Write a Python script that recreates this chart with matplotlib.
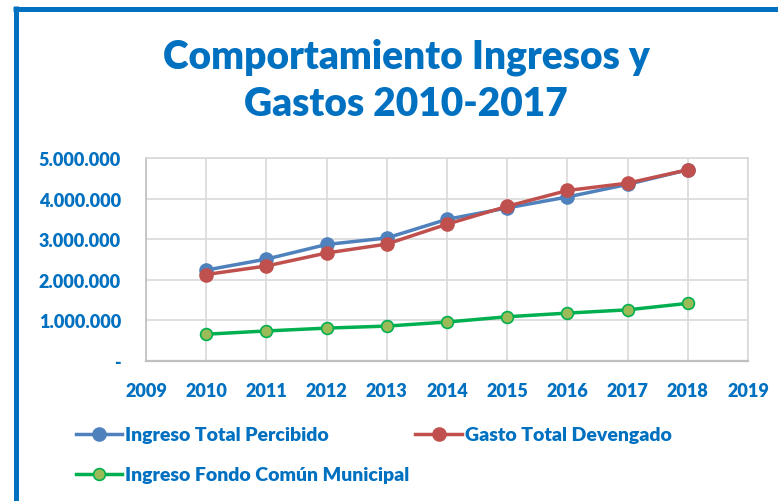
import matplotlib
matplotlib.use("Agg")
import matplotlib.pyplot as plt
from matplotlib.lines import Line2D
from matplotlib.ticker import FixedLocator, FuncFormatter

years = [2010, 2011, 2012, 2013, 2014, 2015, 2016, 2017, 2018]
ingreso_total = [2240000, 2510000, 2870000, 3030000, 3490000, 3770000, 4040000, 4350000, 4710000]
gasto_total = [2130000, 2340000, 2660000, 2880000, 3370000, 3810000, 4200000, 4380000, 4710000]
ingreso_fcm = [660000, 740000, 810000, 860000, 960000, 1090000, 1180000, 1260000, 1420000]
series_labels = ["Ingreso Total Percibido", "Gasto Total Devengado", "Ingreso Fondo Común Municipal"]
title_text = "Comportamiento Ingresos y\nGastos 2010-2017"
x_ticks = list(range(2009, 2020))
y_ticks = [0, 1000000, 2000000, 3000000, 4000000, 5000000]

BLUE_TXT = "#0070C0"
FONT = ["Lato", "DejaVu Sans"]
plt.rcParams["font.family"] = FONT

W, H = 778, 502
fig = plt.figure(figsize=(W / 100, H / 100), dpi=100)
fig.patch.set_facecolor("white")

# outer frame (left and top visible)
fig.add_artist(Line2D([15.5 / W, 15.5 / W], [0, 1 - 7 / H], transform=fig.transFigure,
                      color=BLUE_TXT, lw=3.6, solid_capstyle="butt"))
fig.add_artist(Line2D([13 / W, 1], [1 - 9.5 / H, 1 - 9.5 / H], transform=fig.transFigure,
                      color=BLUE_TXT, lw=3.6, solid_capstyle="butt"))

ax = fig.add_axes([146 / W, 1 - 362 / H, (748 - 146) / W, (362 - 159) / H])

ax.plot(years, ingreso_total, color="#4F81BD", lw=2.5, marker="o", ms=9.5,
        markerfacecolor="#4F81BD", markeredgecolor="#4F81BD", label=series_labels[0], zorder=3)
ax.plot(years, gasto_total, color="#C0504D", lw=2.5, marker="o", ms=9.5,
        markerfacecolor="#C0504D", markeredgecolor="#C0504D", label=series_labels[1], zorder=4)
ax.plot(years, ingreso_fcm, color="#00B050", lw=2.5, marker="o", ms=8.5,
        markerfacecolor="#9BBB59", markeredgecolor="#00B050", markeredgewidth=1.2,
        label=series_labels[2], zorder=3)

ax.set_xlim(2009, 2019)
ax.set_ylim(0, 5000000)
ax.xaxis.set_major_locator(FixedLocator(x_ticks))
ax.yaxis.set_major_locator(FixedLocator(y_ticks))
ax.yaxis.set_major_formatter(FuncFormatter(
    lambda v, p: "-" if v == 0 else f"{int(v):,}".replace(",", ".")))
ax.grid(True, color="#D9D9D9", lw=1.2)
ax.set_axisbelow(True)
for s in ax.spines.values():
    s.set_color("#D9D9D9")
    s.set_linewidth(1.2)
ax.spines["bottom"].set_color("#BFBFBF")
ax.spines["bottom"].set_linewidth(1.6)
ax.spines["left"].set_color("#BFBFBF")
ax.tick_params(axis="both", length=0, labelcolor=BLUE_TXT, labelsize=13)
ax.tick_params(axis="y", pad=18)
ax.tick_params(axis="x", pad=15)
for lab in ax.get_xticklabels() + ax.get_yticklabels():
    lab.set_fontweight("heavy")

fig.text(406 / W, 1 - 81 / H, title_text, ha="center", va="center", color=BLUE_TXT,
         fontsize=28, fontweight="heavy", linespacing=1.33)

handles, labels = ax.get_legend_handles_labels()
prop = {"family": FONT, "weight": "heavy", "size": 14}
leg1 = fig.legend(handles[:2], labels[:2], loc="center left", bbox_to_anchor=(58 / W, 1 - 436 / H),
                  ncol=2, frameon=False, columnspacing=4.45, handlelength=2.4, handletextpad=0.15,
                  prop=prop)
leg2 = fig.legend(handles[2:], labels[2:], loc="center left", bbox_to_anchor=(58 / W, 1 - 476 / H),
                  frameon=False, handlelength=2.4, handletextpad=0.15, prop=prop)
for lg in (leg1, leg2):
    for t in lg.get_texts():
        t.set_color(BLUE_TXT)

fig.savefig("out.png", dpi=100)
